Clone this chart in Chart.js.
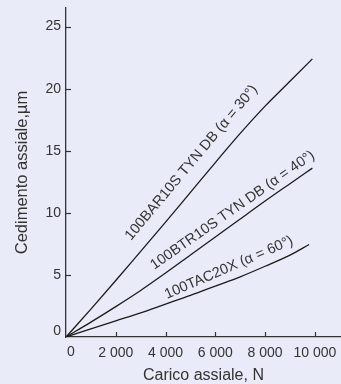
<!DOCTYPE html>
<html>
<head>
<meta charset="utf-8">
<script src="https://cdn.jsdelivr.net/npm/chart.js@4/dist/chart.umd.min.js"></script>
<style>
  html, body { margin: 0; padding: 0; background: #e9ecf8; }
  #wrap { width: 341px; height: 384px; }
</style>
</head>
<body>
<div id="wrap"><canvas id="chart" width="341" height="384"></canvas></div>
<script>
// Data (load in N, displacement in µm)
const loadN   = [0, 1000, 2000, 3000, 4000, 5000, 6000, 7000, 8000, 9000, 9900];
const loadTac = [0, 1000, 2000, 3000, 4000, 5000, 6000, 7000, 8000, 9000, 9770];
const bar30 = [0, 2.25, 4.55, 6.9, 9.25, 11.65, 14.05, 16.4, 18.6, 20.6, 22.4];
const btr40 = [0, 1.2, 2.45, 3.75, 5.15, 6.6, 8.05, 9.5, 10.95, 12.35, 13.6];
const tac60 = [0, 0.65, 1.3, 1.95, 2.65, 3.35, 4.1, 4.85, 5.7, 6.6, 7.45];
const seriesNames = ['100BAR10S TYN DB (α = 30°)', '100BTR10S TYN DB (α = 40°)', '100TAC20X (α = 60°)'];
const xTicks = [0, 2000, 4000, 6000, 8000, 10000];
const yTicks = [0, 5, 10, 15, 20, 25];

// where the curve names sit (data units) and their slant in degrees
const labelSpots = [
  { x: 2610, y: 7.74, angle: -50 },
  { x: 3550, y: 5.4, angle: -35 },
  { x: 4060, y: 3.06, angle: -23.5 }
];

const FONT = '"Liberation Sans", Arial, sans-serif';
const INK = '#333';

function toPoints(xs, ys) {
  return xs.map((x, i) => ({ x: x, y: ys[i] }));
}

function spaced(v) {
  return String(v).replace(/(\d)(?=(\d{3})+$)/g, '$1 ');
}

const curveLabels = {
  id: 'curveLabels',
  afterDatasetsDraw(chart) {
    const { ctx, chartArea, scales: { x, y } } = chart;
    ctx.save();
    // inner tick marks
    ctx.strokeStyle = INK;
    ctx.lineWidth = 1.2;
    xTicks.slice(1).forEach(v => {
      const px = Math.round(x.getPixelForValue(v)) + 0.5;
      ctx.beginPath();
      ctx.moveTo(px, chartArea.bottom);
      ctx.lineTo(px, chartArea.bottom - 5);
      ctx.stroke();
    });
    yTicks.slice(1).forEach(v => {
      const py = Math.round(y.getPixelForValue(v)) + 0.5;
      ctx.beginPath();
      ctx.moveTo(chartArea.left, py);
      ctx.lineTo(chartArea.left + 5, py);
      ctx.stroke();
    });
    // the zeros sit a little off the corner
    ctx.fillStyle = INK;
    ctx.font = '14px ' + FONT;
    ctx.textAlign = 'right';
    ctx.textBaseline = 'middle';
    ctx.fillText('0', chartArea.left - 5, y.getPixelForValue(0) - 6);
    ctx.textAlign = 'center';
    ctx.fillText('0', x.getPixelForValue(0) + 5, chartArea.bottom + 15);
    // curve names
    ctx.font = '14.5px ' + FONT;
    ctx.textAlign = 'left';
    ctx.textBaseline = 'alphabetic';
    labelSpots.forEach((s, i) => {
      ctx.save();
      ctx.translate(x.getPixelForValue(s.x), y.getPixelForValue(s.y));
      ctx.rotate(s.angle * Math.PI / 180);
      ctx.fillText(seriesNames[i], 0, 0);
      ctx.restore();
    });
    ctx.restore();
  }
};

const lineStyle = {
  borderColor: '#1a1a1a',
  borderWidth: 1.3,
  pointRadius: 0,
  fill: false,
  cubicInterpolationMode: 'monotone'
};

const ctx = document.getElementById('chart').getContext('2d');
const chart = new Chart(ctx, {
  type: 'line',
  data: {
    datasets: [
      Object.assign({ label: seriesNames[0], data: toPoints(loadN, bar30) }, lineStyle),
      Object.assign({ label: seriesNames[1], data: toPoints(loadN, btr40) }, lineStyle),
      Object.assign({ label: seriesNames[2], data: toPoints(loadTac, tac60) }, lineStyle)
    ]
  },
  options: {
    responsive: false,
    devicePixelRatio: 1,
    animation: false,
    layout: { padding: { top: 8, left: 0, right: 0, bottom: 0 } },
    plugins: { legend: { display: false }, tooltip: { enabled: false } },
    scales: {
      x: {
        type: 'linear',
        min: 0,
        max: 11050,
        grid: { display: false, drawTicks: false },
        border: { color: INK, width: 1.3 },
        ticks: {
          autoSkip: false,
          color: INK,
          font: { family: FONT, size: 14 },
          padding: 8,
          maxRotation: 0,
          callback: v => v === 0 ? '' : spaced(v)
        },
        afterBuildTicks: s => { s.ticks = xTicks.map(v => ({ value: v })); },
        afterFit: s => { s.height = 47; s.paddingLeft = 0; s.paddingRight = 0; },
        title: {
          display: true,
          text: 'Carico assiale, N',
          color: INK,
          font: { family: FONT, size: 16, lineHeight: 1 },
          padding: { top: 0, bottom: 0 }
        }
      },
      y: {
        min: 0,
        max: 26.5,
        grid: { display: false, drawTicks: false },
        border: { color: INK, width: 1.3 },
        ticks: {
          autoSkip: false,
          color: INK,
          font: { family: FONT, size: 14 },
          padding: 5,
          callback: v => v === 0 ? '' : v
        },
        afterBuildTicks: s => { s.ticks = yTicks.map(v => ({ value: v })); },
        afterFit: s => { s.width = 66; s.paddingTop = 0; s.paddingBottom = 0; },
        title: {
          display: true,
          text: 'Cedimento assiale,µm',
          color: INK,
          font: { family: FONT, size: 16.5 },
          padding: { top: 13, bottom: 0 }
        }
      }
    }
  },
  plugins: [curveLabels]
});
</script>
</body>
</html>
